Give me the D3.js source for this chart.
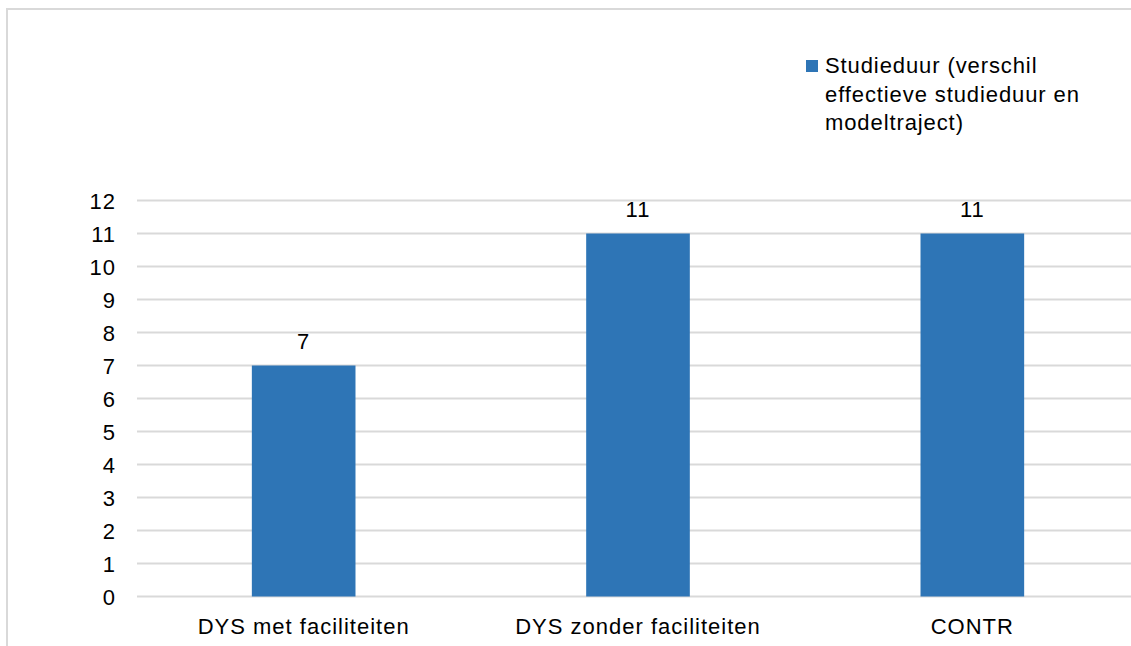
<!DOCTYPE html>
<html>
<head>
<meta charset="utf-8">
<script src="https://cdn.jsdelivr.net/npm/d3@7"></script>
<style>
  body { margin: 0; background: #fff; }
  text { font-family: "Liberation Sans", Arial, sans-serif; fill: #000; letter-spacing: 1px; }
</style>
</head>
<body>
<div id="chart"></div>
<script>
const categories = ['DYS met faciliteiten', 'DYS zonder faciliteiten', 'CONTR']
const values = [7, 11, 11]
const yTicks = d3.range(0, 13)
const legendLines = ['Studieduur (verschil', 'effectieve studieduur en', 'modeltraject)']

const width = 1131, height = 646
const color = '#2e75b6'
const fontSize = 22

const svg = d3.select('#chart')
    .append('svg')
    .attr('width', width)
    .attr('height', height)

// chart frame (cut off at right and bottom)
svg.append('path')
    .attr('d', `M7,${height} V9 H${width}`)
    .attr('fill', 'none')
    .attr('stroke', '#d9d9d9')
    .attr('stroke-width', 2)

const x = d3.scaleBand().domain(categories).range([136.5, 1139.5]).paddingInner(0.69).paddingOuter(0.345)
const y = d3.scaleLinear().domain([0, 12]).range([596.5, 200.5])

// gridlines
svg.append('g')
    .selectAll('line')
    .data(yTicks)
    .enter()
    .append('line')
    .attr('x1', 137)
    .attr('x2', width)
    .attr('y1', d => y(d))
    .attr('y2', d => y(d))
    .attr('stroke', '#d9d9d9')
    .attr('stroke-width', 2)

const yAxis = d3.axisLeft(y).tickValues(yTicks).tickSize(0).tickPadding(0)
svg.append('g')
    .attr('transform', 'translate(116,0)')
    .call(yAxis)
    .call(g => g.select('.domain').remove())
    .call(g => g.selectAll('text').attr('font-size', fontSize).attr('fill', '#000').attr('dy', '0.35em')
        .style('font-family', '"Liberation Sans", Arial, sans-serif'))

svg.selectAll('rect.bar')
    .data(values)
    .enter()
    .append('rect')
    .attr('class', 'bar')
    .attr('x', (d, i) => x(categories[i]))
    .attr('width', x.bandwidth())
    .attr('y', d => y(d))
    .attr('height', d => y(0) - y(d))
    .attr('fill', color)

// data labels
svg.selectAll('text.val')
    .data(values)
    .enter()
    .append('text')
    .attr('class', 'val')
    .attr('x', (d, i) => x(categories[i]) + x.bandwidth() / 2)
    .attr('y', d => y(d) - 16.5)
    .attr('text-anchor', 'middle')
    .attr('font-size', fontSize)
    .text(d => d)

const xAxis = d3.axisBottom(x).tickSize(0).tickPadding(0)
svg.append('g')
    .attr('transform', 'translate(0,626)')
    .call(xAxis)
    .call(g => g.select('.domain').remove())
    .call(g => g.selectAll('text').attr('font-size', fontSize).attr('fill', '#000').attr('dy', '0.35em')
        .style('font-family', '"Liberation Sans", Arial, sans-serif'))

// legend
const legend = svg.append('g').attr('transform', 'translate(806,60)')
legend.append('rect').attr('width', 12).attr('height', 12).attr('fill', color)
legend.append('text')
    .attr('x', 19)
    .attr('font-size', fontSize)
    .style('letter-spacing', '0.9px')
    .selectAll('tspan')
    .data(legendLines)
    .enter()
    .append('tspan')
    .attr('x', 19)
    .attr('y', (d, i) => 5.5 + i * 28.5)
    .attr('dy', '0.35em')
    .text(d => d)
</script>
</body>
</html>
